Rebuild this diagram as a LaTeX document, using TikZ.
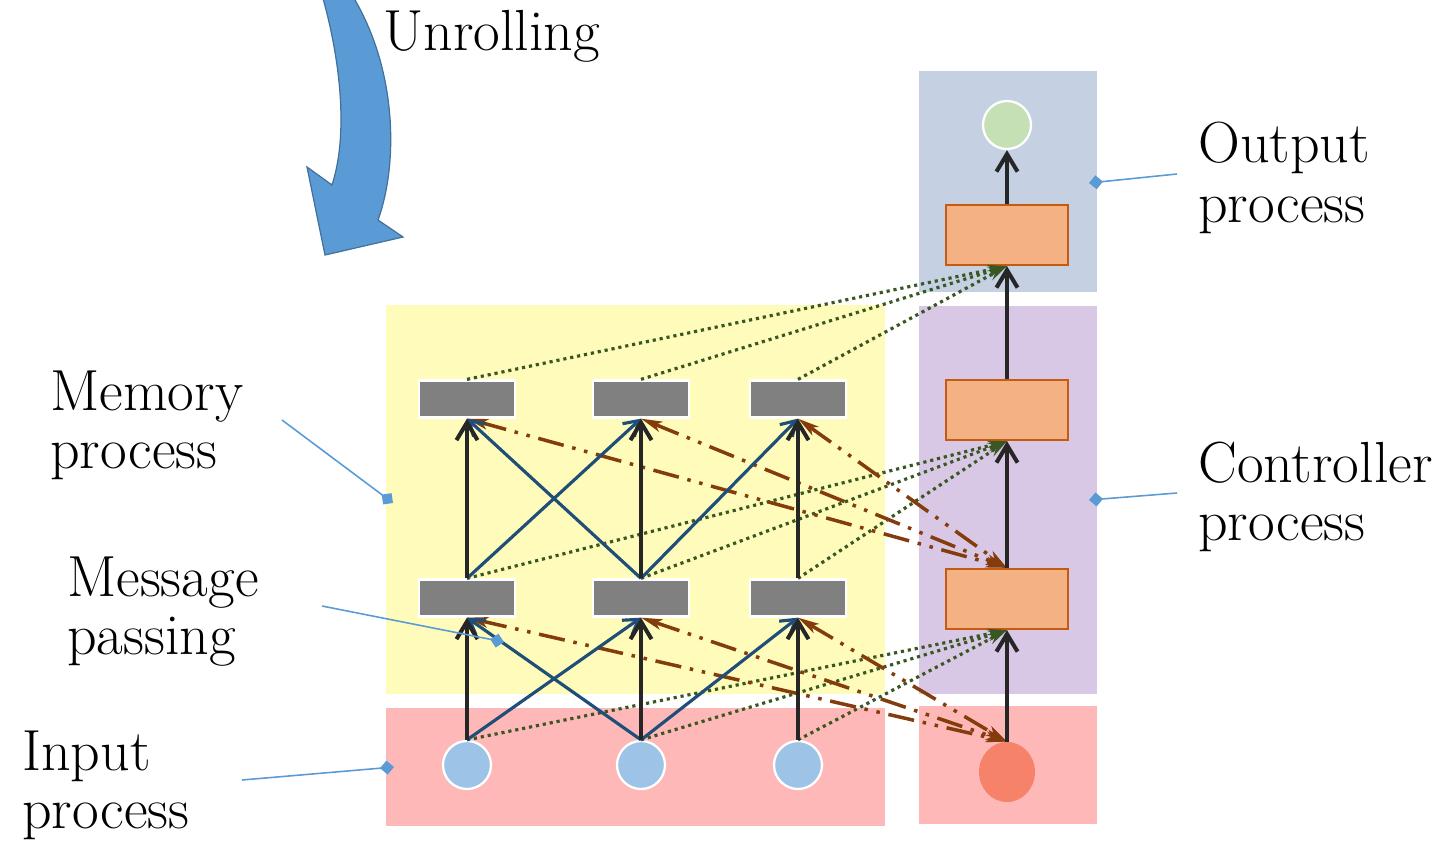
\documentclass[tikz,border=0pt]{standalone}
\usetikzlibrary{arrows.meta,shapes.geometric}
\definecolor{memyellow}{HTML}{FFFCBB}
\definecolor{inpink}{HTML}{FFB8B8}
\definecolor{outblue}{HTML}{C6D0E3}
\definecolor{ctrlpurple}{HTML}{D9C8E5}
\definecolor{memgray}{HTML}{808080}
\definecolor{inblue}{HTML}{9DC3E6}
\definecolor{outgreen}{HTML}{C5E0B4}
\definecolor{ctrlorange}{HTML}{F4B183}
\definecolor{ctrledge}{HTML}{C55A11}
\definecolor{redin}{HTML}{F6826A}
\definecolor{crossblue}{HTML}{1F4E79}
\definecolor{arrowblack}{HTML}{262626}
\definecolor{rwbrown}{HTML}{843C0C}
\definecolor{readgreen}{HTML}{385723}
\definecolor{callout}{HTML}{5B9BD5}
\definecolor{calloutedge}{HTML}{41719C}
\begin{document}
\begin{tikzpicture}[x=0.02cm,y=-0.02cm,
  memnode/.style={rectangle, fill=memgray, draw=white, line width=1.3pt,
    minimum width=1.92cm, minimum height=0.74cm, inner sep=0pt},
  innode/.style={circle, fill=inblue, draw=white, line width=1.3pt,
    minimum size=0.96cm, inner sep=0pt},
  ctrlnode/.style={rectangle, fill=ctrlorange, draw=ctrledge, line width=1.3pt,
    minimum width=2.44cm, minimum height=1.2cm, inner sep=0pt},
  blk/.style={draw=arrowblack, line width=2.3pt,
    -{Straight Barb[length=10pt,width=12pt]}},
  cross/.style={draw=crossblue, line width=1.8pt,
    -{Straight Barb[length=8pt,width=10pt]}},
  rw/.style={draw=rwbrown, line width=2pt,
    dash pattern=on 15pt off 5pt on 2pt off 5pt on 2pt off 5pt,
    {Stealth[length=12pt,width=6pt,inset=3pt]}-{Stealth[length=12pt,width=6pt,inset=3pt]}},
  rd/.style={draw=readgreen, line width=1.8pt, dash pattern=on 1.8pt off 2.2pt,
    -{Stealth[length=11pt,width=6pt]}},
  ptr/.style={draw=callout, line width=0.9pt, -{Diamond[length=8pt,width=8pt]}},
  lbl/.style={inner sep=0pt, anchor=base west, font=\fontsize{33}{36}\selectfont}
]
\useasboundingbox (0,0) rectangle (1438,849);
\clip (0,0) rectangle (1438,849);

% process regions
\fill[memyellow] (386,305) rectangle (885,694);
\fill[inpink] (386,708) rectangle (885,826);
\fill[outblue] (919,71) rectangle (1097,292);
\fill[ctrlpurple] (919,306) rectangle (1097,694);
\fill[inpink] (919,706) rectangle (1097,824);

% curved unrolling arrow
\filldraw[fill=callout, draw=calloutedge, line width=0.7pt]
  (322,-5) .. controls (338,50) and (350,130) .. (332,185)
  -- (307,167) -- (325,255) -- (403,237) -- (378,220)
  .. controls (398,165) and (398,70) .. (352,-5) -- cycle;

% memory cells
\node[memnode] (t1) at (467,399) {};
\node[memnode] (t2) at (641,399) {};
\node[memnode] (t3) at (798,399) {};
\node[memnode] (m1) at (467,598) {};
\node[memnode] (m2) at (641,598) {};
\node[memnode] (m3) at (798,598) {};
% inputs
\node[innode] (i1) at (467,765) {};
\node[innode] (i2) at (641,765) {};
\node[innode] (i3) at (798,765) {};
% controller column
\node[ellipse, fill=redin, minimum width=1.12cm, minimum height=1.2cm, inner sep=0pt] (ri) at (1007,772) {};
\node[ctrlnode] (c1) at (1007,599) {};
\node[ctrlnode] (c2) at (1007,410) {};
\node[ctrlnode] (c3) at (1007,235) {};
\node[circle, fill=outgreen, draw=white, line width=1.3pt, minimum size=0.96cm, inner sep=0pt] (out) at (1007,125) {};

% reads into the controller
\foreach \s in {i1,i2,i3} \draw[rd] (\s.north) -- (c1.south);
\foreach \s in {m1,m2,m3} \draw[rd] (\s.north) -- (c2.south);
\foreach \s in {t1,t2,t3} \draw[rd] (\s.north) -- (c3.south);

% controller read/write links
\foreach \s in {m1,m2,m3} \draw[rw] (\s.south) -- (ri.north);
\foreach \s in {t1,t2,t3} \draw[rw] (\s.south) -- (c1.north);

% message passing
\draw[cross] (i1.north) -- (m2.south);
\draw[cross] (i2.north) -- (m1.south);
\draw[cross] (i2.north) -- (m3.south);
\draw[cross] (m1.north) -- (t2.south);
\draw[cross] (m2.north) -- (t1.south);
\draw[cross] (m2.north) -- (t3.south);

% vertical flow
\foreach \n in {1,2,3} {
  \draw[blk] (i\n.north) -- (m\n.south);
  \draw[blk] (m\n.north) -- (t\n.south);
}
\draw[blk] (ri.north) -- (c1.south);
\draw[blk] (c1.north) -- (c2.south);
\draw[blk] (c2.north) -- (c3.south);
\draw[blk] (c3.north) -- (out.south);

% labels
\node[lbl] (unroll) at (383,50) {Unrolling};
\node[lbl] (outA) at (1198,162) {Output};
\node[lbl] (outB) at (1198,222) {process};
\node[lbl] (ctlA) at (1198,482) {Controller};
\node[lbl] (ctlB) at (1198,540) {process};
\node[lbl] (memA) at (50,410) {Memory};
\node[lbl] (memB) at (50,468) {process};
\node[lbl] (msgA) at (67,596) {Message};
\node[lbl] (msgB) at (67,654) {passing};
\node[lbl] (inA) at (22,770) {Input};
\node[lbl] (inB) at (22,828) {process};

% callout pointers
\coordinate (pOut0) at (1177,174);  \coordinate (pOut1) at (1089,183);
\coordinate (pCtl0) at (1177,493);  \coordinate (pCtl1) at (1089,500);
\coordinate (pMem0) at (282,420);   \coordinate (pMem1) at (393,503);
\coordinate (pMsg0) at (322,606);   \coordinate (pMsg1) at (504,642);
\coordinate (pIn0) at (242,780);    \coordinate (pIn1) at (394,767);
\draw[ptr] (pOut0) -- (pOut1);
\draw[ptr] (pCtl0) -- (pCtl1);
\draw[ptr] (pMem0) -- (pMem1);
\draw[ptr] (pMsg0) -- (pMsg1);
\draw[ptr] (pIn0) -- (pIn1);
\end{tikzpicture}
\end{document}
